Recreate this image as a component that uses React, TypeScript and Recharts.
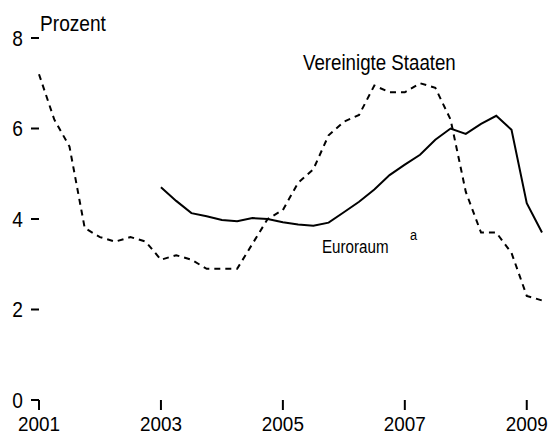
import { LineChart, Line, XAxis, YAxis, Customized } from "recharts";

// quarterly time points (decimal years)
const quarters = [
  2001, 2001.25, 2001.5, 2001.75, 2002, 2002.25, 2002.5, 2002.75,
  2003, 2003.25, 2003.5, 2003.75, 2004, 2004.25, 2004.5, 2004.75,
  2005, 2005.25, 2005.5, 2005.75, 2006, 2006.25, 2006.5, 2006.75,
  2007, 2007.25, 2007.5, 2007.75, 2008, 2008.25, 2008.5, 2008.75,
  2009, 2009.25,
];

const usValues = [
  7.2, 6.2, 5.6, 3.8, 3.6, 3.5, 3.6, 3.5,
  3.1, 3.2, 3.1, 2.9, 2.9, 2.9, 3.45, 4.0,
  4.2, 4.8, 5.1, 5.85, 6.15, 6.3, 6.95, 6.8,
  6.8, 7.0, 6.9, 6.2, 4.6, 3.7, 3.7, 3.25,
  2.3, 2.2,
];

const euroValues = [
  null, null, null, null, null, null, null, null,
  4.7, 4.4, 4.13, 4.06, 3.98, 3.95, 4.02, 4.0,
  3.93, 3.88, 3.85, 3.92, 4.15, 4.38, 4.65, 4.97,
  5.2, 5.42, 5.75, 6.0, 5.88, 6.1, 6.28, 5.97,
  4.35, 3.7,
];

const xTicks = [2001, 2003, 2005, 2007, 2009];
const yTicks = [0, 2, 4, 6, 8];

const data = quarters.map((t, i) => ({ t, us: usValues[i], euro: euroValues[i] }));

const FONT = "'Liberation Sans', Arial, sans-serif";
const SX = 0.87; // the original type is a bit condensed

// text squeezed horizontally around its anchor point
const Squeezed = ({ x, y, size, anchor = "start", dy, sx = SX, children }: any) => (
  <text
    transform={`translate(${x},${y}) scale(${sx},1)`}
    x={0}
    y={0}
    dy={dy}
    textAnchor={anchor}
    fontSize={size}
    fontFamily={FONT}
    fill="#000"
  >
    {children}
  </text>
);

const XTick = ({ x, y, payload }: any) => (
  <Squeezed x={x} y={y - 3} size={21} anchor="middle" dy="0.71em" sx={0.9}>
    {payload.value}
  </Squeezed>
);

const YTick = ({ x, y, payload }: any) => (
  <Squeezed x={x} y={y} size={22} anchor="end" dy="0.355em">
    {payload.value}
  </Squeezed>
);

const Annotations = () => (
  <g>
    <Squeezed x={40} y={31} size={22}>Prozent</Squeezed>
    <Squeezed x={303} y={70} size={22} sx={0.85}>Vereinigte Staaten</Squeezed>
    <Squeezed x={322} y={253} size={18.5} sx={0.82}>Euroraum</Squeezed>
    <Squeezed x={410} y={240} size={15} sx={0.85}>a</Squeezed>
  </g>
);

export default function App() {
  return (
    <div style={{ position: "absolute", left: 0, top: 0, width: 551, height: 436 }}>
      <LineChart
        width={551}
        height={436}
        data={data}
        margin={{ top: 38, right: 9, left: 0, bottom: 0 }}
      >
        <XAxis
          dataKey="t"
          type="number"
          domain={[2001, 2009.25]}
          ticks={xTicks}
          axisLine={false}
          tickSize={10}
          tickMargin={9}
          height={36}
          tickLine={{ stroke: "#000", strokeWidth: 2 }}
          tick={<XTick />}
          interval={0}
        />
        <YAxis
          domain={[0, 8]}
          ticks={yTicks}
          axisLine={false}
          tickSize={8}
          tickMargin={8}
          width={39}
          tickLine={{ stroke: "#000", strokeWidth: 2 }}
          tick={<YTick />}
          interval={0}
        />
        <Line
          dataKey="us"
          type="linear"
          stroke="#000"
          strokeWidth={2}
          strokeDasharray="6 5"
          dot={false}
          isAnimationActive={false}
        />
        <Line
          dataKey="euro"
          type="linear"
          stroke="#000"
          strokeWidth={2}
          dot={false}
          isAnimationActive={false}
        />
        <Customized component={Annotations} />
      </LineChart>
    </div>
  );
}
